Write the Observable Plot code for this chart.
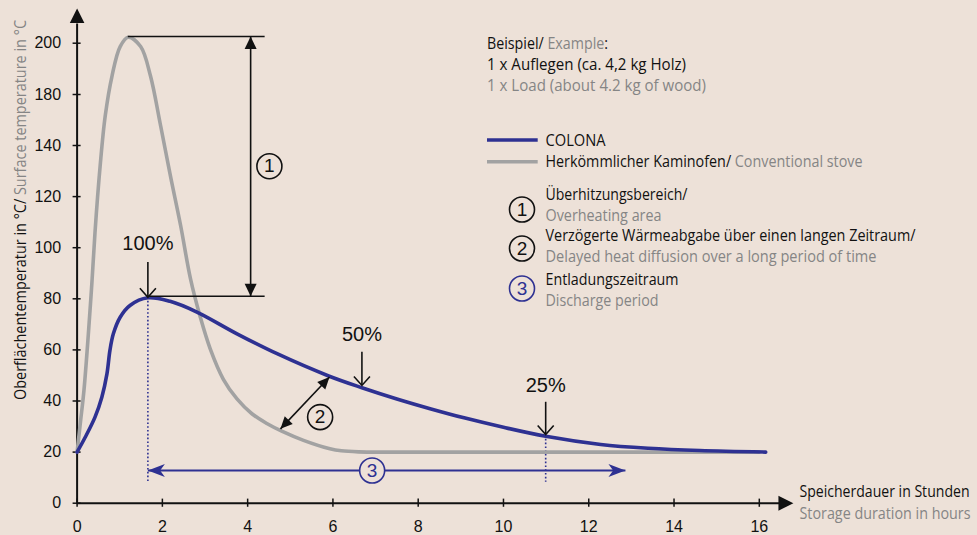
<!DOCTYPE html>
<html><head><meta charset="utf-8">
<script src="https://cdn.jsdelivr.net/npm/d3@7"></script>
<script src="https://cdn.jsdelivr.net/npm/@observablehq/plot@0.6"></script>
<style>
body{margin:0;background:#ede1d8;}
#wrap{position:relative;width:977px;height:535px;overflow:hidden;background:#ede1d8;}
#wrap svg text{white-space:pre;}
</style></head><body><div id="wrap"></div>
<script>
// ---------- data ----------
const hoursColona = [0, 0.19, 0.42, 0.58, 0.70, 0.77, 0.85, 1.01, 1.24, 1.66, 2.18, 2.81, 3.75, 4.69, 5.9, 6.68, 7.5, 8.3, 9.1, 10.0, 10.99, 12.28, 13.4, 14.6, 16.15];
const tempColona  = [20, 25.8, 33.7, 41.5, 50.6, 59.8, 66.3, 72.8, 77.4, 80.4, 79, 74.8, 66.3, 58.5, 49.8, 45.2, 40.8, 36.9, 33.3, 29.7, 26.2, 23.0, 21.5, 20.6, 20];
const hoursConv = [0, 0.08, 0.16, 0.27, 0.35, 0.42, 0.54, 0.66, 0.82, 1.01, 1.2, 1.49, 1.72, 1.96, 2.19, 2.43, 2.66, 2.89, 3.12, 3.43, 3.75, 4.1, 4.45, 4.8, 5.31, 5.93, 6.2, 6.6, 7.3, 9, 11, 13, 16];
const tempConv  = [20, 32, 44, 67.6, 87, 106, 131.9, 163.3, 187.3, 198.7, 202.3, 198.7, 187.3, 155.3, 128, 108.5, 87.8, 72.8, 60.5, 48.5, 40.8, 35, 31.2, 28.2, 24.6, 21.3, 20.5, 20.1, 20, 20, 20, 20, 20];
const xTicks = [0, 2, 4, 6, 8, 10, 12, 14, 16];
const yTicks = [0, 20, 40, 60, 80, 100, 120, 140, 180, 200];
// y axis is broken: 160 is skipped (140 -> 180 takes one tick step)
const yBreaks = [0, 140, 180, 200];

// annotations (data coordinates)
const pctLabels = ["100%", "50%", "25%"];
const pctHours  = [1.66, 6.68, 10.99];
const pctTop    = [94.2, 59.1, 39.5];
const pctTip    = [80.6, 46.1, 26.9];
const pctLabelY = [101.7, 66.1, 46.1];
const dottedHours = [1.66, 10.99];
const dottedTop = [80.5, 26.5];
const dottedBottom = 8.2;
const overheatX = 4.07, overheatTop = 202.6, overheatBottom = 81;
const overheatLineStart = [1.2, 1.66], overheatLineEnd = 4.41;
const diffusion = {x1: 4.77, y1: 29.1, x2: 5.92, y2: 49.4};
const discharge = {x1: 1.66, y1: 12.8, x2: 12.86, y2: 12.8};
const badges = [{n: "1", x: 4.51, y: 131.9}, {n: "2", x: 5.70, y: 33.7}, {n: "3", x: 6.92, y: 12.8}];

// ---------- styles ----------
const BG = "#ede1d8", BLUE = "#2e3192", GRAY = "#a2a2a2", INK = "#111111", TXTG = "#858585";
const SANS = "'Liberation Sans', Arial, sans-serif";
const FONT = "'Open Sans', sans-serif";

const xDomain = [0, 16], xRange = [76.6, 758.8];
const yRange = [502.7, 145, 94, 42.7];
const sx = Plot.scale({x: {type: "linear", domain: xDomain, range: xRange}});
const sy = Plot.scale({y: {type: "linear", domain: yBreaks, range: yRange}});

function angle(x1, y1, x2, y2) { // direction from 1 to 2 in pixels, 0 = up
  const dx = sx.apply(x2) - sx.apply(x1), dy = sy.apply(y2) - sy.apply(y1);
  return Math.atan2(dx, -dy) * 180 / Math.PI;
}
function twoHeads(a) {
  return [{x: a.x2, y: a.y2, r: angle(a.x1, a.y1, a.x2, a.y2)}, {x: a.x1, y: a.y1, r: angle(a.x2, a.y2, a.x1, a.y1)}];
}
const tri = (w, L) => ({draw(c) { c.moveTo(0, 0); c.lineTo(w, L); c.lineTo(-w, L); c.closePath(); }});
const barb = (w, L) => ({draw(c) { c.moveTo(0, 0); c.lineTo(w, L); c.lineTo(0, L * 0.72); c.lineTo(-w, L); c.closePath(); }});
const chev = (w, L) => ({draw(c) { c.moveTo(-w, L); c.lineTo(0, 0); c.lineTo(w, L); }});

const colona = hoursColona.map((h, i) => ({h, t: tempColona[i]}));
const conv = hoursConv.map((h, i) => ({h, t: tempConv[i]}));
const pcts = pctLabels.map((l, i) => ({l, x: pctHours[i], y1: pctTop[i], y2: pctTip[i], ly: pctLabelY[i]}));
const dotted = dottedHours.map((x, i) => ({x, y1: dottedTop[i], y2: dottedBottom}));
const ohArrow = {x1: overheatX, y1: overheatBottom, x2: overheatX, y2: overheatTop};

const chart = Plot.plot({
  width: 977, height: 535,
  marginLeft: 76.6, marginRight: 218.2, marginTop: 42.7, marginBottom: 32.3,
  style: {background: "transparent", fontFamily: SANS, fontSize: "16px", color: INK, overflow: "visible"},
  x: {type: "linear", domain: xDomain, range: xRange},
  y: {type: "linear", domain: yBreaks, range: yRange},
  marks: [
    // axes
    Plot.ruleY([0], {x1: 0, x2: 16.5, stroke: INK, strokeWidth: 2}),
    Plot.ruleX([0], {y1: 0, y2: 207.5, stroke: INK, strokeWidth: 2}),
    Plot.dot([{x: 16.8, y: 0}], {x: "x", y: "y", r: 5, symbol: tri(7.5, 15), fill: INK, stroke: "none", rotate: 90}),
    Plot.dot([{x: 0, y: 213.5}], {x: "x", y: "y", r: 5, symbol: tri(7.3, 14.5), fill: INK, stroke: "none", rotate: 0}),
    Plot.ruleX(xTicks, {x: d => d, y1: -1.6, y2: 1.6, stroke: INK, strokeWidth: 1.5}),
    Plot.ruleY(yTicks, {y: d => d, x1: -0.094, x2: 0.094, stroke: INK, strokeWidth: 1.5}),
    Plot.axisX(xTicks, {tickSize: 0, tickPadding: 17, fontSize: 16, fill: INK}),
    Plot.axisY(yTicks, {tickSize: 0, tickPadding: 16, fontSize: 16, fill: INK}),

    // discharge period (3)
    Plot.ruleX(dotted, {x: "x", y1: "y1", y2: "y2", stroke: BLUE, strokeWidth: 1.6, strokeDasharray: "1.6,2.2"}),
    Plot.link([discharge], {x1: "x1", y1: "y1", x2: "x2", y2: "y2", stroke: BLUE, strokeWidth: 2}),
    Plot.dot(twoHeads(discharge), {x: "x", y: "y", rotate: "r", r: 5, symbol: barb(6.5, 17), fill: BLUE, stroke: "none"}),

    // curves
    Plot.line(conv, {x: "h", y: "t", stroke: GRAY, strokeWidth: 3.6, curve: "catmull-rom"}),
    Plot.line(colona, {x: "h", y: "t", stroke: BLUE, strokeWidth: 3.6, curve: "catmull-rom"}),

    // overheating area (1)
    Plot.ruleY([overheatTop, overheatBottom], {y: d => d, x1: (d, i) => overheatLineStart[i], x2: overheatLineEnd, stroke: INK, strokeWidth: 1.6}),
    Plot.link([ohArrow], {x1: "x1", y1: "y1", x2: "x2", y2: "y2", stroke: INK, strokeWidth: 1.6}),
    Plot.dot(twoHeads(ohArrow), {x: "x", y: "y", rotate: "r", r: 5, symbol: tri(6, 12.5), fill: INK, stroke: "none"}),

    // delayed heat diffusion (2)
    Plot.link([diffusion], {x1: "x1", y1: "y1", x2: "x2", y2: "y2", stroke: INK, strokeWidth: 1.6}),
    Plot.dot(twoHeads(diffusion), {x: "x", y: "y", rotate: "r", r: 5, symbol: tri(5.5, 12), fill: INK, stroke: "none"}),

    // percentage markers
    Plot.ruleX(pcts, {x: "x", y1: "y1", y2: "y2", stroke: INK, strokeWidth: 1.6}),
    Plot.dot(pcts, {x: "x", y: "y2", r: 5, rotate: 180, symbol: chev(8, 9), fill: "none", stroke: INK, strokeWidth: 1.6}),
    Plot.text(pcts, {x: "x", y: "ly", text: "l", fontSize: 20, fill: INK, fontFamily: SANS}),

    // circled numbers
    Plot.dot(badges, {x: "x", y: "y", r: 12.5, fill: BG, stroke: (d) => d.n === "3" ? BLUE : INK, strokeWidth: 1.6}),
    Plot.text(badges, {x: "x", y: "y", text: "n", fontSize: 19, fontFamily: SANS, fill: (d) => d.n === "3" ? BLUE : INK})
  ]
});
document.getElementById("wrap").appendChild(chart);

// ---------- legend & titles overlay ----------
const K = INK;
const textLines = [
  {x: 487, y: 48.5, w: 121, parts: [["Beispiel/ ", K], ["Example", TXTG], [":", K]]},
  {x: 487, y: 69.5, w: 199, parts: [["1 x Auflegen (ca. 4,2 kg Holz)", K]]},
  {x: 487, y: 91, w: 219, parts: [["1 x Load (about 4.2 kg of wood)", TXTG]]},
  {x: 545.5, y: 146, w: 60, parts: [["COLONA", K]]},
  {x: 545.5, y: 167, w: 317, parts: [["Herkömmlicher Kaminofen/ ", K], ["Conventional stove", TXTG]]},
  {x: 545.5, y: 200, w: 142, parts: [["Überhitzungsbereich/", K]]},
  {x: 545.5, y: 221, w: 116, parts: [["Overheating area", TXTG]]},
  {x: 545.5, y: 240.5, w: 370, parts: [["Verzögerte Wärmeabgabe über einen langen Zeitraum/", K]]},
  {x: 545.5, y: 262, w: 331, parts: [["Delayed heat diffusion over a long period of time", TXTG]]},
  {x: 545.5, y: 285, w: 133, parts: [["Entladungszeitraum", K]]},
  {x: 545.5, y: 306, w: 113, parts: [["Discharge period", TXTG]]},
  {x: 799.5, y: 497, w: 170, parts: [["Speicherdauer in Stunden", K]]},
  {x: 799.5, y: 519, w: 171, parts: [["Storage duration in hours", TXTG]]},
  {x: 26, y: 400, w: 380, rot: true, parts: [["Oberflächentemperatur in °C/ ", K], ["Surface temperature in °C", TXTG]]}
];
const swatches = [{y: 140, c: BLUE}, {y: 161.7, c: GRAY}];
const legendBadges = [{n: "1", y: 209.5, c: INK}, {n: "2", y: 248.5, c: INK}, {n: "3", y: 288.5, c: BLUE}];

const ov = d3.select("#wrap").append("svg")
  .attr("width", 977).attr("height", 535)
  .style("position", "absolute").style("left", 0).style("top", 0);
for (const s of swatches) {
  ov.append("line").attr("x1", 487).attr("x2", 537.7).attr("y1", s.y).attr("y2", s.y)
    .attr("stroke", s.c).attr("stroke-width", 3.6);
}
for (const b of legendBadges) {
  ov.append("circle").attr("cx", 522).attr("cy", b.y).attr("r", 12.5)
    .attr("fill", "none").attr("stroke", b.c).attr("stroke-width", 1.6);
  ov.append("text").attr("x", 522).attr("y", b.y).attr("dy", "0.35em").attr("text-anchor", "middle")
    .style("font-family", SANS).style("font-size", "19px").attr("fill", b.c).text(b.n);
}
for (const t of textLines) {
  const el = ov.append("text").attr("x", t.x).attr("y", t.y)
    .style("font-family", FONT).style("font-size", "16px")
    .attr("textLength", t.w).attr("lengthAdjust", "spacingAndGlyphs");
  if (t.rot) el.attr("transform", `rotate(-90 ${t.x} ${t.y})`).style("font-size", "17px");
  for (const [s, c] of t.parts) el.append("tspan").attr("fill", c).text(s);
}
</script></body></html>
